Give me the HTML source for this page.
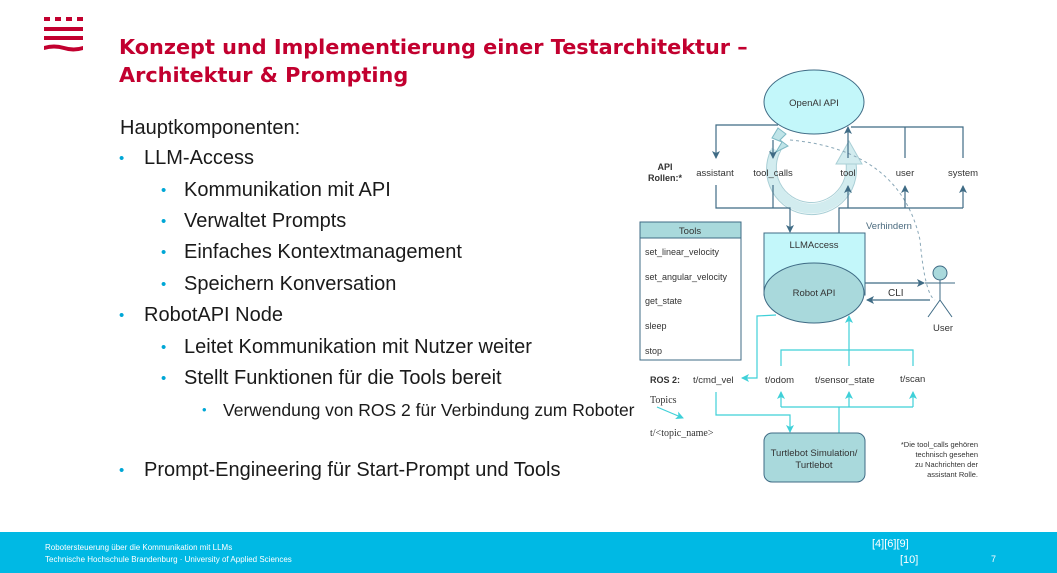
<!DOCTYPE html>
<html><head><meta charset="utf-8"><style>
body{margin:0;width:1057px;height:573px;overflow:hidden;background:#fff;font-family:"Liberation Sans",sans-serif;position:relative}
.t{position:absolute;white-space:nowrap}
.h{color:#c2002f;font-weight:bold;font-size:20.8px;left:119px;font-family:"DejaVu Sans",sans-serif}
.l1{font-size:20px;color:#1a1a1a}
.b{position:absolute;color:#00a7d6;font-size:15px}
#foot{position:absolute;left:0;top:532px;width:1057px;height:41px;background:#00b9e4;color:#fff}
</style></head><body>
<svg style="position:absolute;left:0;top:0" width="100" height="60">
<g fill="#c2002f"><rect x="44" y="17" width="6" height="4"/><rect x="55" y="17" width="6" height="4"/><rect x="66" y="17" width="6" height="4"/><rect x="77" y="17" width="6" height="4"/>
<rect x="44" y="27" width="39" height="4"/><rect x="44" y="36" width="39" height="4"/>
<path d="M44 46 q10 -3 20 0 q10 3 19 0 v4 q-10 3 -19 0 q-10 -3 -20 0z"/></g></svg>
<div class="t h" style="top:35px">Konzept und Implementierung einer Testarchitektur –</div>
<div class="t h" style="top:63px">Architektur &amp; Prompting</div>

<div class="t l1" style="left:120px;top:117px">Hauptkomponenten:</div>
<div class="b" style="left:119px;top:150px">•</div><div class="t l1" style="left:144px;top:147px">LLM-Access</div>
<div class="b" style="left:161px;top:182px">•</div><div class="t l1" style="left:184px;top:179px">Kommunikation mit API</div>
<div class="b" style="left:161px;top:213px">•</div><div class="t l1" style="left:184px;top:210px">Verwaltet Prompts</div>
<div class="b" style="left:161px;top:244px">•</div><div class="t l1" style="left:184px;top:241px">Einfaches Kontextmanagement</div>
<div class="b" style="left:161px;top:276px">•</div><div class="t l1" style="left:184px;top:273px">Speichern Konversation</div>
<div class="b" style="left:119px;top:307px">•</div><div class="t l1" style="left:144px;top:304px">RobotAPI Node</div>
<div class="b" style="left:161px;top:339px">•</div><div class="t l1" style="left:184px;top:336px">Leitet Kommunikation mit Nutzer weiter</div>
<div class="b" style="left:161px;top:370px">•</div><div class="t l1" style="left:184px;top:367px">Stellt Funktionen für die Tools bereit</div>
<div class="b" style="left:202px;top:402px;font-size:13px">•</div><div class="t" style="left:223px;top:400px;font-size:17.5px;color:#1a1a1a">Verwendung von ROS 2 für Verbindung zum Roboter</div>
<div class="b" style="left:119px;top:462px">•</div><div class="t l1" style="left:144px;top:459px">Prompt-Engineering für Start-Prompt und Tools</div>

<svg style="position:absolute;left:0;top:0" width="1057" height="532" font-family="Liberation Sans,sans-serif" font-size="9.5" fill="#333">
<defs>
<marker id="a" markerWidth="8" markerHeight="8" refX="7" refY="4" orient="auto" markerUnits="userSpaceOnUse"><path d="M0 0L8 4L0 8L2 4z" fill="#3f6b85"/></marker>
<marker id="c" markerWidth="8" markerHeight="8" refX="7" refY="4" orient="auto" markerUnits="userSpaceOnUse"><path d="M0 0L8 4L0 8L2 4z" fill="#3fd0d8"/></marker>
</defs>
<!-- circular arrow -->
<path d="M776 150 A40 40 0 1 0 850 158" fill="none" stroke="#d2ecef" stroke-width="10"/>
<path d="M771 150 A45 45 0 1 0 855 158 M781 150 A35 35 0 1 0 845 158" fill="none" stroke="#a9cfd6" stroke-width="1"/>
<polygon points="836,164 862,164 849,141" fill="#d2ecef" stroke="#a9cfd6"/>
<polygon points="778,128 786,134 780,140 788,146 776,152 782,142 772,138" fill="#bfe4e8" stroke="#7fb9c4"/>
<path d="M790 140 Q900 150 920 240 Q925 295 935 300" fill="none" stroke="#8aa8b8" stroke-dasharray="3,3"/>
<text x="866" y="229" fill="#4a6a7e">Verhindern</text>
<ellipse cx="814" cy="102" rx="50" ry="32" fill="#c3f7fa" stroke="#3f6b85"/>
<text x="814" y="106" text-anchor="middle">OpenAI API</text>
<g stroke="#3f6b85" fill="none" stroke-width="1.2">
<path d="M778 125H716V158" marker-end="url(#a)"/>
<path d="M773 140V158" marker-end="url(#a)"/>
<path d="M848 158V127" marker-end="url(#a)"/>
<path d="M851 127H963V158M905 127V158"/>
<path d="M716 185V208H790V232" marker-end="url(#a)"/><path d="M773 185V208"/>
<path d="M839 233V208H963"/>
<path d="M848 208V186" marker-end="url(#a)"/><path d="M905 208V186" marker-end="url(#a)"/><path d="M963 208V186" marker-end="url(#a)"/>
<path d="M865 283H924" marker-end="url(#a)"/><path d="M930 300H867" marker-end="url(#a)"/>
</g>
<text x="665" y="170" text-anchor="middle" font-weight="bold" font-size="9">API</text>
<text x="665" y="181" text-anchor="middle" font-weight="bold" font-size="9">Rollen:*</text>
<g text-anchor="middle"><text x="715" y="176">assistant</text><text x="773" y="176">tool_calls</text><text x="848" y="176">tool</text><text x="905" y="176">user</text><text x="963" y="176">system</text></g>
<!-- tools -->
<rect x="640" y="222" width="101" height="138" fill="#fff" stroke="#3f6b85"/>
<rect x="640" y="222" width="101" height="16" fill="#a9d9dc" stroke="#3f6b85"/>
<text x="690" y="234" text-anchor="middle">Tools</text>
<g font-size="9"><text x="645" y="255">set_linear_velocity</text><text x="645" y="280">set_angular_velocity</text><text x="645" y="304">get_state</text><text x="645" y="329">sleep</text><text x="645" y="354">stop</text></g>
<!-- LLMAccess -->
<rect x="764" y="233" width="101" height="62" fill="#c3f7fa" stroke="#3f6b85"/>
<text x="814" y="248" text-anchor="middle">LLMAccess</text>
<ellipse cx="814" cy="293" rx="50" ry="30" fill="#a9d9dc" stroke="#3f6b85"/>
<text x="814" y="296" text-anchor="middle">Robot API</text>
<text x="888" y="296" fill="#333" font-size="10">CLI</text>
<!-- user -->
<g stroke="#3f6b85" fill="none"><circle cx="940" cy="273" r="7" fill="#a9d9dc"/><path d="M940 280V300M925 283H955M940 300L928 317M940 300L952 317"/></g>
<text x="943" y="331" text-anchor="middle">User</text>
<!-- ROS -->
<text x="650" y="383" font-weight="bold" font-size="9">ROS 2:</text>
<g font-size="9.5"><text x="693" y="383">t/cmd_vel</text><text x="765" y="383">t/odom</text><text x="815" y="383">t/sensor_state</text><text x="900" y="382">t/scan</text></g>
<g stroke="#3fd0d8" fill="none" stroke-width="1.2">
<path d="M776 315L757 316V378H742" marker-end="url(#c)"/>
<path d="M781 366V350H913V366"/><path d="M849 366V316" marker-end="url(#c)"/>
<path d="M716 392V415H790V432" marker-end="url(#c)"/>
<path d="M781 407H913"/><path d="M781 407V392" marker-end="url(#c)"/><path d="M849 407V392" marker-end="url(#c)"/><path d="M913 407V392" marker-end="url(#c)"/>
<path d="M839 407V433"/>
<path d="M657 407L683 418" marker-end="url(#c)"/>
</g>
<text x="650" y="403" font-family="Liberation Serif,serif" font-size="10">Topics</text>
<text x="650" y="436" font-family="Liberation Serif,serif" font-size="10">t/&lt;topic_name&gt;</text>
<rect x="764" y="433" width="101" height="49" rx="8" fill="#a9d9dc" stroke="#3f6b85"/>
<text x="814" y="456" text-anchor="middle" font-size="9.5">Turtlebot Simulation/</text>
<text x="814" y="468" text-anchor="middle" font-size="9.5">Turtlebot</text>
<g text-anchor="end" font-size="7.5"><text x="978" y="447">*Die tool_calls gehören</text><text x="978" y="457">technisch gesehen</text><text x="978" y="467">zu Nachrichten der</text><text x="978" y="477">assistant Rolle.</text></g>
</svg>
<div id="foot">
<div class="t" style="left:45px;top:11px;font-size:8px">Robotersteuerung über die Kommunikation mit LLMs</div>
<div class="t" style="left:45px;top:23px;font-size:8px">Technische Hochschule Brandenburg · University of Applied Sciences</div>
<div class="t" style="left:872px;top:6px;font-size:11px">[4][6][9]</div>
<div class="t" style="left:900px;top:22px;font-size:11px">[10]</div>
<div class="t" style="left:991px;top:22px;font-size:9px">7</div>
</div>
</body></html>
